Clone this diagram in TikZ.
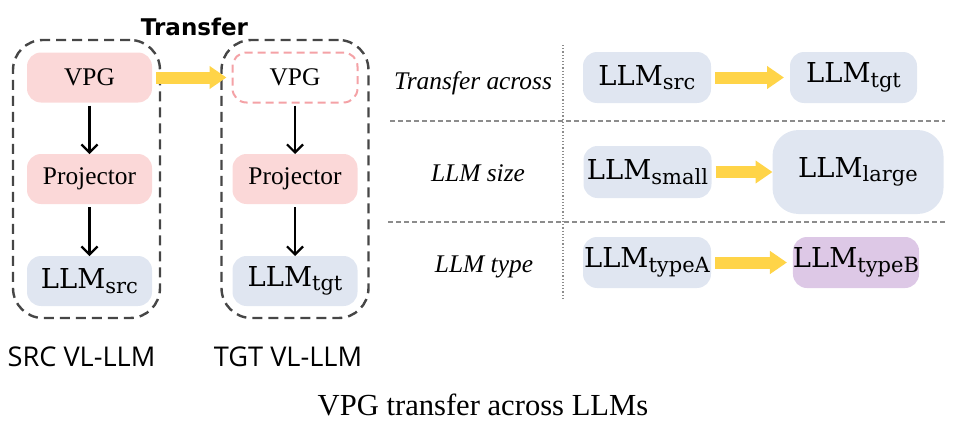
\documentclass[tikz,border=0pt]{standalone}
\usepackage{fontspec}
\usetikzlibrary{arrows.meta}
\newfontfamily\timesfont{Liberation Serif}
\newfontfamily\opensans{Open Sans}
\newfontfamily\dejavu{DejaVu Sans}
\newfontfamily\dejaserif{DejaVu Serif}
\newcommand{\llmsub}[1]{LLM\raisebox{-2.3pt}{\fontsize{10.5}{12}\selectfont #1}}
\definecolor{vpgpink}{RGB}{251,216,216}
\definecolor{vpgline}{RGB}{244,162,166}
\definecolor{llmblue}{RGB}{224,230,241}
\definecolor{llmpurple}{RGB}{221,200,230}
\definecolor{xferyellow}{RGB}{255,212,72}
\definecolor{contgray}{RGB}{70,70,70}
\definecolor{sepgray}{RGB}{140,140,140}

\begin{document}
\begin{tikzpicture}[x=0.5pt,y=-0.5pt,
	cont/.style={draw=contgray,line width=1.2pt,dash pattern=on 5pt off 3pt,rounded corners=15pt,inner sep=0,minimum width=73.5pt,minimum height=139pt},
	box/.style={rounded corners=7pt,inner sep=0,outer sep=0,minimum width=62.5pt,minimum height=25pt,font=\timesfont\fontsize{12.7}{14}\selectfont},
	lbox/.style={fill=llmblue,rounded corners=7pt,inner sep=0,outer sep=0,minimum width=64pt,minimum height=25.5pt,font=\dejaserif\fontsize{13.7}{16}\selectfont},
	darr/.style={line width=1.1pt,shorten <=1.5pt,-{Straight Barb[length=4pt,width=8pt]}},
	yarr/.style={draw=xferyellow,line width=6pt,shorten <=2pt,shorten >=3pt,-{Triangle[length=8.5pt,width=11pt]}},
	rowlbl/.style={font=\timesfont\itshape\fontsize{12.7}{14}\selectfont,anchor=base},
	sep/.style={draw=sepgray,line width=0.6pt,dash pattern=on 2.5pt off 1.5pt}]
	\useasboundingbox (0,0) rectangle (966,428);
	% source and target VL-LLM
	\node[cont] (src) at (86.5,179) {};
	\node[cont] (tgt) at (295,179) {};
	\node[box,fill=vpgpink] (vpgS) at (89.5,77.5) {VPG};
	\node[box,fill=vpgpink] (projS) at (89.5,179) {Projector};
	\node[lbox,minimum width=62.5pt,minimum height=25pt] (llmS) at (89.5,281) {\llmsub{src}};
	\node[box,draw=vpgline,line width=1pt,dash pattern=on 4pt off 2.5pt] (vpgT) at (295,77.5) {VPG};
	\node[box,fill=vpgpink] (projT) at (295,179) {Projector};
	\node[lbox,minimum width=62.5pt,minimum height=25pt] (llmT) at (295,281) {\llmsub{tgt}};
	\draw[darr] (vpgS) -- (projS);
	\draw[darr] (projS) -- (llmS);
	\draw[darr] (vpgT) -- (projT);
	\draw[darr] (projT) -- (llmT);
	\draw[yarr] (vpgS) -- (vpgT);
	\node[font=\dejavu\bfseries\fontsize{11.5}{13}\selectfont,anchor=base] (xfer) at (194.5,35) {Transfer};
	\node[font=\opensans\fontsize{13.6}{16}\selectfont,anchor=base] (srcname) at (81.5,366) {SRC VL-LLM};
	\node[font=\opensans\fontsize{13.6}{16}\selectfont,anchor=base] (tgtname) at (288,366) {TGT VL-LLM};
	% table of transfer settings
	\draw[sepgray,line width=0.6pt,dash pattern=on 0.6pt off 1pt] (563,45) -- (563,300);
	\draw[sep] (390,121) -- (945,121);
	\draw[sep] (388,222) -- (945,222);
	\node[rowlbl] (row1) at (473,90) {Transfer across};
	\node[rowlbl] (row2) at (478,181) {LLM size};
	\node[rowlbl] (row3) at (484,272) {LLM type};
	\node[lbox] (a1) at (647,77.5) {\llmsub{src}};
	\node[lbox,minimum width=63.5pt] (b1) at (853.5,77.5) {\llmsub{tgt}};
	\node[lbox,minimum height=26pt] (a2) at (647.5,172) {\llmsub{small}};
	\node[lbox,rounded corners=13pt,minimum width=85.5pt,minimum height=42pt] (b2) at (858,172) {\llmsub{large}};
	\node[lbox] (a3) at (647,262.5) {\llmsub{typeA}};
	\node[lbox,fill=llmpurple,minimum width=63pt] (b3) at (856,262.5) {\llmsub{typeB}};
	\draw[yarr] (a1) -- (b1);
	\draw[yarr,shorten >=0pt] (a2) -- (b2);
	\draw[yarr] (a3) -- (b3);
	\node[font=\timesfont\fontsize{15.3}{18}\selectfont,anchor=base] (caption) at (483,415) {VPG transfer across LLMs};
\end{tikzpicture}
\end{document}
